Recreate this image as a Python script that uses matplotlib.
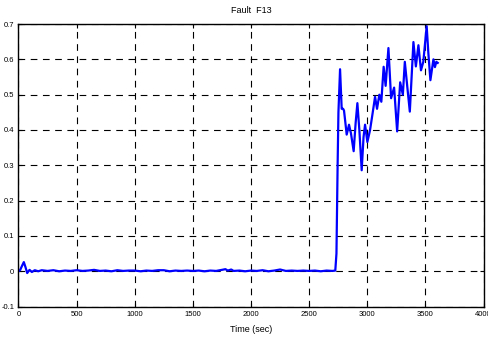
import matplotlib
matplotlib.use("Agg")
import matplotlib.pyplot as plt

plt.rcParams['font.family'] = ['Liberation Sans Narrow', 'Liberation Sans', 'DejaVu Sans']

# baseline (pre-fault) segment
t_pre = [0, 15, 30, 46, 60, 75, 95, 115, 140, 170, 200, 250, 300, 350, 400, 450, 500,
         550, 600, 650, 700, 750, 800, 850, 900, 950, 1000, 1050, 1100, 1150, 1200,
         1250, 1300, 1350, 1400, 1450, 1500, 1550, 1600, 1650, 1700, 1750, 1780, 1800,
         1830, 1850, 1900, 1950, 2000, 2050, 2100, 2150, 2200, 2250, 2300, 2350, 2400,
         2450, 2500, 2550, 2600, 2650, 2700, 2725]
v_pre = [0.0, 0.004, 0.015, 0.026, 0.012, -0.005, 0.004, -0.002, 0.003, 0.0, 0.003,
         0.001, 0.003, 0.0, 0.002, 0.001, 0.003, 0.001, 0.002, 0.004, 0.001, 0.002, 0.0,
         0.003, 0.001, 0.002, 0.002, 0.0, 0.002, 0.001, 0.003, 0.003, 0.0, 0.002, 0.001,
         0.002, 0.001, 0.002, 0.0, 0.002, 0.001, 0.004, 0.006, 0.002, 0.005, 0.001, 0.002,
         0.0, 0.002, 0.001, 0.003, 0.0, 0.002, 0.005, 0.001, 0.002, 0.001, 0.002, 0.001,
         0.002, 0.0, 0.002, 0.001, 0.002]

# post-fault segment
t_post = [2735, 2745, 2752, 2766, 2780, 2792, 2800, 2812, 2823, 2843, 2860, 2883, 2900,
          2915, 2932, 2952, 2968, 2981, 3001, 3024, 3044, 3067, 3084, 3104, 3121, 3141,
          3158, 3182, 3205, 3231, 3257, 3283, 3306, 3323, 3345, 3366, 3397, 3418, 3440,
          3462, 3482, 3511, 3525, 3543, 3569, 3582, 3594, 3606]
v_post = [0.05, 0.30, 0.45, 0.572, 0.46, 0.46, 0.455, 0.42, 0.387, 0.415, 0.39, 0.34,
          0.42, 0.476, 0.40, 0.286, 0.38, 0.415, 0.366, 0.40, 0.443, 0.494, 0.46, 0.50,
          0.48, 0.579, 0.525, 0.632, 0.49, 0.52, 0.396, 0.535, 0.50, 0.593, 0.52, 0.452,
          0.649, 0.58, 0.64, 0.569, 0.593, 0.694, 0.62, 0.541, 0.60, 0.578, 0.593, 0.59]

x_ticks = [0, 500, 1000, 1500, 2000, 2500, 3000, 3500, 4000]
y_ticks = [-0.1, 0, 0.1, 0.2, 0.3, 0.4, 0.5, 0.6, 0.7]
y_labels = ['-0.1', '0', '0.1', '0.2', '0.3', '0.4', '0.5', '0.6', '0.7']

fig = plt.figure(figsize=(4.89, 3.38), dpi=100)
ax = fig.add_axes([0.0378, 0.0929, 0.951, 0.836])
ax.plot(t_pre + t_post, v_pre + v_post, color='#0000ff', lw=1.6)
ax.set_xlim(0, 4000)
ax.set_ylim(-0.1, 0.7)
ax.set_xticks(x_ticks)
ax.set_xticklabels([str(x) for x in x_ticks])
ax.set_yticks(y_ticks)
ax.set_yticklabels(y_labels)
ax.tick_params(direction='in', length=3, width=0.8, labelsize=5.5, pad=3,
               top=True, right=True)
ax.grid(True, color='black', linestyle=(0, (6, 5)), linewidth=0.8)
for s in ax.spines.values():
    s.set_linewidth(1.0)
ax.set_title('Fault  F13', fontsize=6.5, pad=8)
ax.set_xlabel('Time (sec)', fontsize=6.5, labelpad=5)
fig.savefig('out.png', dpi=100)
